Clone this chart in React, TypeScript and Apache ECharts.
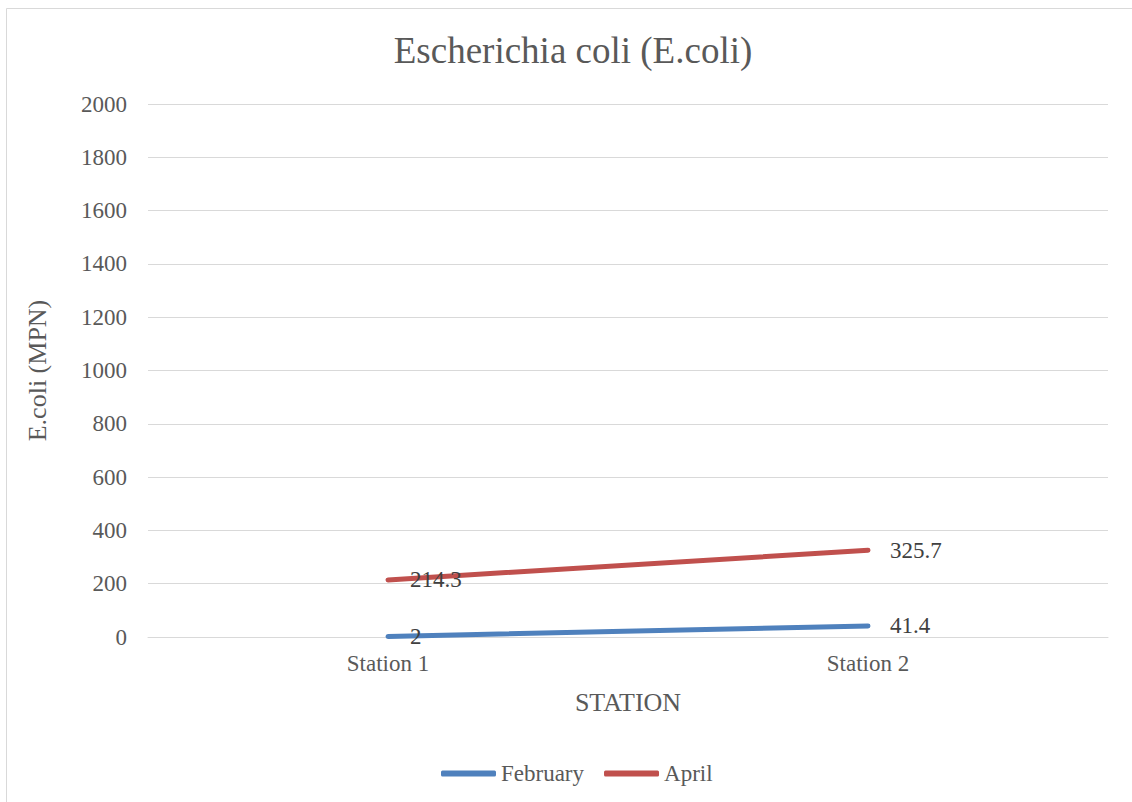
import React, { useEffect, useRef } from "react";
import * as echarts from "echarts";

const categories = ["Station 1", "Station 2"];
const february = [2, 41.4];
const april = [214.3, 325.7];
const seriesNames = ["February", "April"];
const yTicks = { min: 0, max: 2000, interval: 200 };

const FONT = '"Liberation Serif", "Times New Roman", serif';

export default function App() {
  const ref = useRef<HTMLDivElement>(null);
  useEffect(() => {
    if (!ref.current) return;
    const chart = echarts.init(ref.current, undefined, { renderer: "svg" });
    const labelStyle = {
      show: true,
      position: "right" as const,
      distance: 22,
      fontFamily: FONT,
      fontSize: 23,
      color: "#404040",
    };
    chart.setOption({
      animation: false,
      backgroundColor: "#ffffff",
      textStyle: { fontFamily: FONT },
      graphic: [
        {
          type: "rect",
          shape: { x: 6.5, y: 8.5, width: 1200, height: 900 },
          style: { fill: "none", stroke: "#D9D9D9", lineWidth: 1 },
          silent: true,
        },
      ],
      title: {
        text: "Escherichia coli (E.coli)",
        left: 568,
        textAlign: "center",
        top: 27,
        textStyle: { fontFamily: FONT, fontSize: 37, fontWeight: "normal", color: "#595959" },
      },
      grid: { left: 148, right: 24, top: 104, bottom: 165 },
      legend: {
        data: seriesNames.map((n) => ({ name: n, icon: "roundRect" })),
        left: 436,
        top: 757,
        itemWidth: 55,
        itemHeight: 6,
        itemGap: 20,
        textStyle: { fontFamily: FONT, fontSize: 23, color: "#595959" },
      },
      xAxis: {
        type: "category",
        data: categories,
        boundaryGap: true,
        axisLine: { lineStyle: { color: "#D9D9D9", width: 1 } },
        axisTick: { show: false },
        axisLabel: { margin: 15, fontFamily: FONT, fontSize: 23, color: "#595959" },
        name: "STATION",
        nameLocation: "middle",
        nameGap: 52,
        nameTextStyle: { fontFamily: FONT, fontSize: 26, color: "#595959" },
      },
      yAxis: {
        type: "value",
        min: yTicks.min,
        max: yTicks.max,
        interval: yTicks.interval,
        axisLine: { show: false },
        axisTick: { show: false },
        splitLine: { lineStyle: { color: "#D9D9D9", width: 1 } },
        axisLabel: {
          margin: 21,
          fontFamily: FONT,
          fontSize: 23,
          color: "#595959",
          formatter: (v: number) => String(v),
        },
        name: "E.coli (MPN)",
        nameLocation: "middle",
        nameGap: 98,
        nameTextStyle: { fontFamily: FONT, fontSize: 26, color: "#595959" },
      },
      series: [
        {
          name: seriesNames[0],
          type: "line",
          data: february,
          showSymbol: true,
          symbol: "circle",
          symbolSize: 0,
          lineStyle: { color: "#4F81BD", width: 5, cap: "round" },
          itemStyle: { color: "#4F81BD" },
          label: labelStyle,
        },
        {
          name: seriesNames[1],
          type: "line",
          data: april,
          showSymbol: true,
          symbol: "circle",
          symbolSize: 0,
          lineStyle: { color: "#C0504D", width: 5, cap: "round" },
          itemStyle: { color: "#C0504D" },
          label: labelStyle,
        },
      ],
    });
    return () => chart.dispose();
  }, []);
  return (
    <div
      ref={ref}
      style={{ position: "absolute", left: 0, top: 0, width: 1132, height: 802 }}
    />
  );
}
